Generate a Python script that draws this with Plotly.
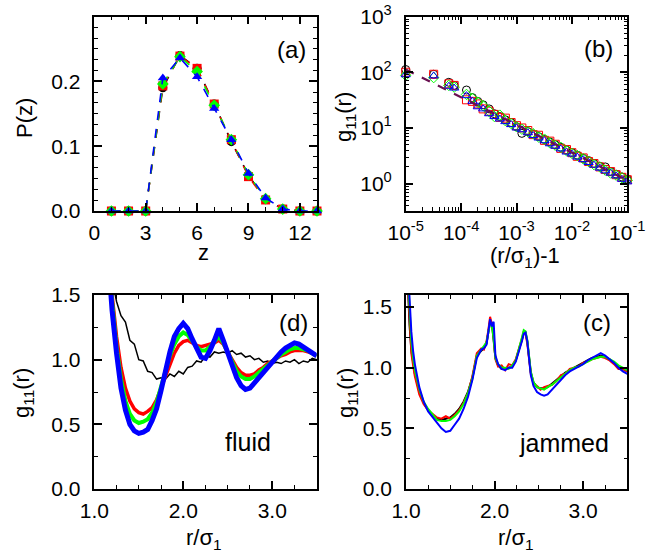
import plotly.graph_objects as go

# ---------------------------------------------------------
# (a) coordination number distribution P(z)
# ---------------------------------------------------------
z_vals = [1, 2, 3, 4, 5, 6, 7, 8, 9, 10, 11, 12, 13]
pz_black = [0, 0, 0, 0.190, 0.240, 0.220, 0.165, 0.107, 0.055, 0.018, 0.003, 0, 0]
pz_red = [0, 0, 0, 0.193, 0.239, 0.220, 0.165, 0.110, 0.053, 0.017, 0.003, 0, 0]
pz_green = [0, 0, 0, 0.196, 0.238, 0.215, 0.163, 0.110, 0.056, 0.019, 0.003, 0, 0]
pz_blue = [0, 0, 0, 0.205, 0.236, 0.207, 0.158, 0.110, 0.058, 0.020, 0.003, 0, 0]

# ---------------------------------------------------------
# (b) contact value g11 vs (r/sigma1)-1
# ---------------------------------------------------------
dr_vals = [1.0e-5, 3.2e-5, 6.0e-5, 7.5e-5, 1.25e-4, 1.6e-4, 2.0e-4, 2.5e-4, 3.2e-4,
           4.0e-4, 5.0e-4, 6.3e-4, 8.0e-4, 1.0e-3, 1.25e-3, 1.6e-3, 2.0e-3, 2.5e-3,
           3.2e-3, 4.0e-3, 5.0e-3, 6.3e-3, 8.0e-3, 1.0e-2, 1.25e-2, 1.6e-2, 2.0e-2,
           2.5e-2, 3.2e-2, 4.0e-2, 5.0e-2, 6.3e-2, 8.0e-2, 1.0e-1]
gc_black = [112, 92, 66, 58, 48, 35, 30, 26, 22, 18, 16, 14, 12.5, 10.5, 8.0, 8.6, 7.8,
            7.0, 6.2, 5.6, 5.0, 4.5, 4.0, 3.6, 3.25, 2.85, 2.6, 2.3, 2.05, 2.0, 1.65,
            1.48, 1.32, 1.2]
gc_red = [100, 92, 62, 58, 32, 30, 27, 22, 20, 17.5, 15.5, 15, 12.5, 11, 10, 9.0, 7.6,
          7.4, 6.0, 5.8, 5.1, 4.3, 4.1, 3.6, 3.1, 2.9, 2.5, 2.3, 2.0, 1.8, 1.65, 1.45,
          1.3, 1.18]
gc_green = [88, 80, 58, 54, 40, 34, 29, 25, 20, 16, 17, 13.5, 12, 10.5, 9.5, 8.6, 7.9,
            6.9, 6.3, 5.4, 4.9, 4.5, 3.9, 3.5, 3.2, 2.8, 2.5, 2.2, 2.0, 1.75, 1.55,
            1.42, 1.28, 1.15]
gc_blue = [90, 86, 56, 52, 38, 30, 24, 22, 18, 16, 14.5, 13, 11.5, 10, 9.3, 8.2, 7.3,
           6.6, 5.9, 5.2, 4.7, 4.2, 3.7, 3.4, 3.0, 2.7, 2.4, 2.15, 1.9, 1.7, 1.55,
           1.38, 1.2, 1.08]
fit_x = [1.0e-5, 1.0e-1]
fit_y = [112, 1.15]

# tick labels for the log panel
xlog_ticks = [1e-5, 1e-4, 1e-3, 1e-2, 1e-1]
xlog_text = ["10<sup>-5</sup>", "10<sup>-4</sup>", "10<sup>-3</sup>", "10<sup>-2</sup>", "10<sup>-1</sup>"]
ylog_ticks = [1, 10, 100, 1000]
ylog_text = ["10<sup>0</sup>", "10<sup>1</sup>", "10<sup>2</sup>", "10<sup>3</sup>"]

# ---------------------------------------------------------
# (d) fluid g11(r)
# ---------------------------------------------------------
r_fluid = [1.15, 1.20, 1.25, 1.30, 1.35, 1.40, 1.45, 1.50, 1.55, 1.60, 1.65, 1.70,
           1.75, 1.80, 1.85, 1.90, 1.95, 2.00, 2.05, 2.10, 2.15, 2.20, 2.25, 2.30,
           2.35, 2.40, 2.45, 2.50, 2.55, 2.60, 2.65, 2.70, 2.75, 2.80, 2.85, 2.90,
           2.95, 3.00, 3.05, 3.10, 3.15, 3.20, 3.25, 3.30, 3.35, 3.40, 3.45, 3.50]
gf_black = [2.10, 1.62, 1.45, 1.34, 1.29, 1.15, 1.12, 1.00, 0.99, 0.91, 0.90, 0.85,
            0.86, 0.85, 0.89, 0.87, 0.91, 0.89, 0.94, 0.95, 0.99, 0.98, 1.03, 1.02,
            1.06, 1.05, 1.06, 1.05, 1.07, 1.04, 1.05, 1.02, 1.03, 1.00, 1.01, 0.98,
            0.99, 0.97, 0.98, 0.97, 0.99, 0.98, 1.00, 0.97, 0.99, 0.98, 1.01, 1.00]
gf_red = [1.82, 1.48, 1.18, 0.94, 0.78, 0.68, 0.62, 0.59, 0.58, 0.60, 0.63, 0.69,
          0.78, 0.88, 0.97, 1.05, 1.11, 1.14, 1.15, 1.13, 1.11, 1.10, 1.11, 1.12,
          1.13, 1.15, 1.12, 1.06, 1.00, 0.94, 0.90, 0.88, 0.88, 0.89, 0.92, 0.94,
          0.97, 0.99, 1.01, 1.03, 1.04, 1.06, 1.07, 1.07, 1.07, 1.06, 1.05, 1.03]
gf_green = [1.80, 1.42, 1.10, 0.85, 0.68, 0.58, 0.53, 0.51, 0.52, 0.54, 0.59, 0.67,
            0.78, 0.91, 1.03, 1.12, 1.18, 1.21, 1.19, 1.14, 1.10, 1.07, 1.07, 1.10,
            1.14, 1.18, 1.13, 1.06, 0.98, 0.91, 0.87, 0.85, 0.85, 0.87, 0.90, 0.93,
            0.96, 0.99, 1.02, 1.04, 1.06, 1.08, 1.09, 1.09, 1.08, 1.07, 1.05, 1.03]
gf_blue = [1.85, 1.38, 1.05, 0.78, 0.61, 0.50, 0.45, 0.43, 0.44, 0.46, 0.53, 0.62,
           0.76, 0.92, 1.06, 1.18, 1.24, 1.28, 1.24, 1.16, 1.09, 1.02, 1.01, 1.07,
           1.15, 1.24, 1.15, 1.05, 0.95, 0.86, 0.80, 0.77, 0.78, 0.82, 0.86, 0.90,
           0.94, 0.99, 1.03, 1.06, 1.09, 1.11, 1.13, 1.12, 1.10, 1.08, 1.05, 1.03]

# ---------------------------------------------------------
# (c) jammed g11(r)
# ---------------------------------------------------------
r_jam = [1.02, 1.04, 1.06, 1.08, 1.10, 1.15, 1.20, 1.25, 1.30, 1.35, 1.40, 1.45, 1.50,
         1.55, 1.60, 1.65, 1.70, 1.75, 1.80, 1.85, 1.88, 1.91, 1.93, 1.95, 1.97, 1.99,
         2.01, 2.04, 2.08, 2.12, 2.16, 2.20, 2.24, 2.28, 2.31, 2.33, 2.35, 2.37, 2.39,
         2.41, 2.44, 2.48, 2.52, 2.56, 2.60, 2.65, 2.70, 2.75, 2.80, 2.85, 2.90, 2.95,
         3.00, 3.05, 3.10, 3.15, 3.20, 3.25, 3.30, 3.35, 3.40, 3.45, 3.50]
gj_black = [1.70, 1.35, 1.15, 1.05, 0.95, 0.80, 0.71, 0.65, 0.61, 0.58, 0.57, 0.58, 0.59,
            0.62, 0.66, 0.72, 0.80, 0.92, 1.10, 1.14, 1.16, 1.20, 1.28, 1.38, 1.37, 1.25,
            1.08, 1.02, 0.99, 0.99, 1.00, 1.01, 1.06, 1.15, 1.23, 1.29, 1.29, 1.22, 1.10,
            0.96, 0.88, 0.84, 0.83, 0.83, 0.84, 0.87, 0.90, 0.93, 0.96, 0.98, 1.00, 1.02,
            1.04, 1.06, 1.08, 1.09, 1.10, 1.09, 1.07, 1.04, 1.01, 0.99, 0.97]
gj_red = [1.72, 1.38, 1.12, 1.02, 0.93, 0.78, 0.70, 0.65, 0.62, 0.59, 0.58, 0.60, 0.58,
          0.61, 0.65, 0.71, 0.79, 0.93, 1.12, 1.16, 1.15, 1.22, 1.31, 1.42, 1.36, 1.27,
          1.07, 1.01, 1.02, 0.98, 1.03, 1.02, 1.07, 1.16, 1.24, 1.30, 1.28, 1.20, 1.08,
          0.95, 0.87, 0.85, 0.82, 0.84, 0.85, 0.86, 0.89, 0.94, 0.95, 0.99, 1.00, 1.01,
          1.04, 1.05, 1.07, 1.08, 1.09, 1.08, 1.06, 1.03, 0.99, 0.99, 0.97]
gj_green = [1.78, 1.45, 1.22, 1.08, 0.98, 0.82, 0.72, 0.66, 0.61, 0.57, 0.56, 0.56, 0.57,
            0.60, 0.64, 0.70, 0.79, 0.91, 1.10, 1.15, 1.17, 1.21, 1.29, 1.37, 1.35, 1.24,
            1.08, 1.03, 1.00, 1.00, 0.99, 1.02, 1.06, 1.16, 1.25, 1.31, 1.30, 1.23, 1.10,
            0.97, 0.88, 0.84, 0.83, 0.82, 0.84, 0.86, 0.89, 0.92, 0.95, 0.98, 1.00, 1.01,
            1.03, 1.05, 1.07, 1.08, 1.09, 1.09, 1.07, 1.05, 1.02, 1.00, 0.98]
gj_blue = [1.85, 1.55, 1.30, 1.14, 1.03, 0.84, 0.72, 0.64, 0.59, 0.54, 0.50, 0.47, 0.48,
           0.53, 0.58, 0.66, 0.76, 0.90, 1.08, 1.15, 1.16, 1.19, 1.30, 1.40, 1.34, 1.38,
           1.10, 1.03, 0.99, 0.98, 1.00, 1.00, 1.05, 1.14, 1.22, 1.28, 1.29, 1.22, 1.08,
           0.94, 0.85, 0.80, 0.78, 0.77, 0.78, 0.82, 0.86, 0.90, 0.94, 0.97, 0.99, 1.01,
           1.03, 1.06, 1.08, 1.10, 1.12, 1.10, 1.07, 1.04, 1.00, 0.97, 0.95]

COLORS = ["#000000", "#ff0000", "#00ff00", "#0000ff"]
FONT = "Liberation Sans, Arial, sans-serif"
FS_TICK = 21
FS_TITLE = 22
FS_PANEL = 24

# figure fills the whole window (body margin removed after plotting)
W, H = 647, 559


def px_x(xp):
    return xp / W


def px_y(yp):
    return 1 - yp / H


fig = go.Figure()

# ---------------------------------------------------------
# Panel (a)
# ---------------------------------------------------------
symbols_a = ["circle", "square", "diamond", "triangle-up"]
for ys, col, sym in zip([pz_black, pz_red, pz_green, pz_blue], COLORS, symbols_a):
    fig.add_trace(go.Scatter(
        x=z_vals, y=ys, mode="lines+markers", xaxis="x", yaxis="y",
        line=dict(color=col, width=1.6, dash="dash"),
        marker=dict(symbol=sym, size=9, color=col),
        cliponaxis=False, showlegend=False,
    ))

# ---------------------------------------------------------
# Panel (b)
# ---------------------------------------------------------
symbols_b = ["circle-open", "square-open", "diamond-open", "triangle-up-open"]
for ys, col, sym in zip([gc_black, gc_red, gc_green, gc_blue], COLORS, symbols_b):
    fig.add_trace(go.Scatter(
        x=dr_vals, y=ys, mode="markers", xaxis="x2", yaxis="y2",
        marker=dict(symbol=sym, size=8, color=col, line=dict(width=1, color=col)),
        cliponaxis=False, showlegend=False,
    ))
fig.add_trace(go.Scatter(
    x=fit_x, y=fit_y, mode="lines", xaxis="x2", yaxis="y2",
    line=dict(color="#6a1050", width=2.2, dash="dash"), showlegend=False,
))

# ---------------------------------------------------------
# Panel (d) fluid
# ---------------------------------------------------------
for ys, col, w in zip([gf_black, gf_red, gf_green, gf_blue], COLORS, [1.5, 3.5, 4.0, 5.0]):
    fig.add_trace(go.Scatter(
        x=r_fluid, y=ys, mode="lines", xaxis="x3", yaxis="y3",
        line=dict(color=col, width=w), showlegend=False,
    ))

# ---------------------------------------------------------
# Panel (c) jammed
# ---------------------------------------------------------
for ys, col in zip([gj_black, gj_red, gj_green, gj_blue], COLORS):
    fig.add_trace(go.Scatter(
        x=r_jam, y=ys, mode="lines", xaxis="x4", yaxis="y4",
        line=dict(color=col, width=2), showlegend=False,
    ))


def ax(standoff, **kw):
    base = dict(
        showline=True, linecolor="black", linewidth=1.5, mirror="allticks",
        ticks="inside", ticklen=8, tickwidth=1.5, tickcolor="black",
        showgrid=False, zeroline=False, automargin=False, ticklabelstandoff=standoff,
        ticklabeloverflow="allow",
        tickfont=dict(size=FS_TICK, color="black", family=FONT),
    )
    base.update(kw)
    return base


def minor(dtick, tick0=0):
    return dict(ticks="inside", ticklen=4, tickwidth=1, tickcolor="black",
                showgrid=False, dtick=dtick, tick0=tick0)


def minor_log(decades):
    vals = [m * 10.0 ** d for d in decades for m in range(2, 10)]
    return dict(ticks="inside", ticklen=4, tickwidth=1, tickcolor="black",
                showgrid=False, tickmode="array", tickvals=vals)


top_y = [px_y(211), px_y(16.5)]
bot_y = [px_y(489), px_y(295)]
XS, YS = 2, 8

fig.update_layout(
    width=W, height=H,
    margin=dict(l=0, r=0, t=0, b=0),
    paper_bgcolor="white", plot_bgcolor="white",
    font=dict(family=FONT, size=FS_TICK, color="black"),
    xaxis=ax(XS, domain=[px_x(94.3), px_x(317)], anchor="y", range=[0, 13],
             dtick=3, tick0=0, minor=minor(1)),
    yaxis=ax(YS, domain=top_y, anchor="x", range=[0, 0.3],
             tickvals=[0, 0.1, 0.2], tickformat=".1f", minor=minor(0.1 / 6)),
    xaxis2=ax(XS, domain=[px_x(405.7), px_x(627.3)], anchor="y2", type="log",
              range=[-5, -0.9999],
              tickvals=xlog_ticks, ticktext=xlog_text, minor=minor_log(range(-5, -1))),
    yaxis2=ax(YS, domain=top_y, anchor="x2", type="log", range=[-0.49, 3.0001],
              tickvals=ylog_ticks, ticktext=ylog_text, minor=minor_log(range(-1, 3))),
    xaxis3=ax(XS, domain=[px_x(94.3), px_x(316.7)], anchor="y3", range=[1, 3.5],
              tickvals=[1, 2, 3], tickformat=".1f", minor=minor(0.25, 1)),
    yaxis3=ax(YS, domain=bot_y, anchor="x3", range=[0, 1.5],
              dtick=0.5, tickformat=".1f", minor=minor(0.25)),
    xaxis4=ax(XS, domain=[px_x(406), px_x(627.3)], anchor="y4", range=[1, 3.5],
              tickvals=[1, 2, 3], tickformat=".1f", minor=minor(0.25, 1)),
    yaxis4=ax(YS, domain=bot_y, anchor="x4", range=[0, 1.6],
              tickvals=[0, 0.5, 1.0, 1.5], tickformat=".1f", minor=minor(0.25)),
)

# ---------------------------------------------------------
# Axis titles and panel labels (as annotations)
# ---------------------------------------------------------


def px_note(text, xp, yp, angle=0):
    fig.add_annotation(text=text, x=px_x(xp), y=px_y(yp), xref="paper", yref="paper",
                       showarrow=False, textangle=angle, xanchor="center", yanchor="middle",
                       font=dict(size=FS_TITLE, color="black", family=FONT))


px_note("P(z)", 24, 118, -90)
px_note("z", 203, 253)
px_note("g<sub>11</sub>(r)", 345, 117, -90)
px_note("(r/σ<sub>1</sub>)-1", 525, 257)
px_note("g<sub>11</sub>(r)", 23, 393, -90)
px_note("r/σ<sub>1</sub>", 204, 539)
px_note("g<sub>11</sub>(r)", 347, 393, -90)
px_note("r/σ<sub>1</sub>", 516, 539)


def panel_note(text, xr, yr, xd, yd, anchor="right", size=FS_PANEL):
    fig.add_annotation(text=text, x=xd, y=yd, xref=xr, yref=yr, showarrow=False,
                       xanchor=anchor, yanchor="middle",
                       font=dict(size=size, color="black", family=FONT))


panel_note("(a)", "x domain", "y domain", 0.96, 0.83)
panel_note("(b)", "x2 domain", "y2 domain", 0.944, 0.833)
panel_note("(d)", "x3 domain", "y3 domain", 0.97, 0.858)
panel_note("fluid", "x3 domain", "y3 domain", 0.69, 0.24, "center", 25)
panel_note("(c)", "x4 domain", "y4 domain", 0.935, 0.858)
panel_note("jammed", "x4 domain", "y4 domain", 0.712, 0.236, "center", 25)

fig.write_html("out.html", config={"displayModeBar": False},
               post_script="document.body.style.margin='0px';")
